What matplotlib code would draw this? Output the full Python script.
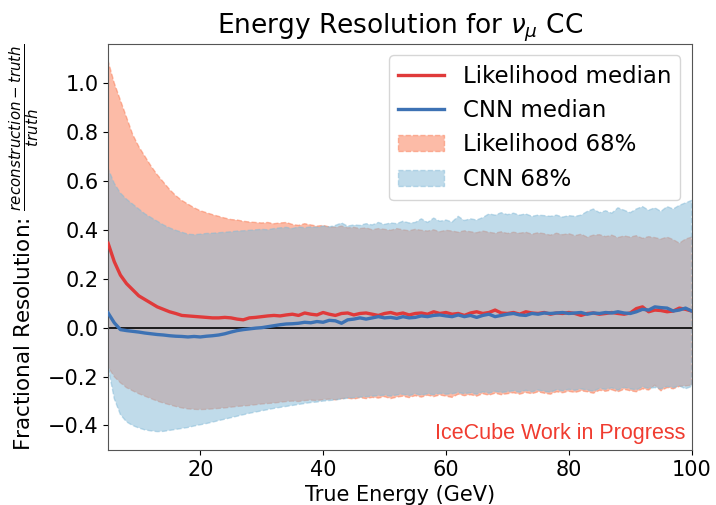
import numpy as np
import matplotlib
matplotlib.use("Agg")
import matplotlib.pyplot as plt

# energy bins (GeV)
energy = np.arange(5, 101)

ll_median = [
    0.345, 0.27, 0.215, 0.18, 0.155, 0.13, 0.115, 0.10, 0.085, 0.075,
    0.065, 0.058, 0.05, 0.048, 0.046, 0.044, 0.042, 0.040, 0.040, 0.042,
    0.040, 0.035, 0.032, 0.040, 0.042, 0.045, 0.048, 0.050, 0.048, 0.052,
    0.055, 0.050, 0.060, 0.055, 0.052, 0.062, 0.055, 0.050, 0.058, 0.060,
    0.052, 0.058, 0.060, 0.055, 0.050, 0.058, 0.062, 0.055, 0.060, 0.052,
    0.058, 0.060, 0.055, 0.065, 0.058, 0.062, 0.055, 0.058, 0.050, 0.060,
    0.065, 0.058, 0.062, 0.072, 0.060, 0.058, 0.062, 0.055, 0.065, 0.060,
    0.058, 0.062, 0.055, 0.060, 0.058, 0.062, 0.058, 0.050, 0.058, 0.060,
    0.055, 0.058, 0.062, 0.058, 0.055, 0.060, 0.078, 0.085, 0.065, 0.072,
    0.070, 0.065, 0.068, 0.080, 0.075, 0.068]

cnn_median = [
    0.06, 0.02, -0.008, -0.012, -0.015, -0.018, -0.022, -0.025, -0.028, -0.030,
    -0.033, -0.035, -0.036, -0.038, -0.036, -0.038, -0.035, -0.033, -0.030, -0.025,
    -0.018, -0.012, -0.008, -0.005, -0.002, 0.000, 0.004, 0.008, 0.012, 0.015,
    0.016, 0.018, 0.022, 0.020, 0.025, 0.022, 0.030, 0.028, 0.018, 0.032,
    0.035, 0.040, 0.035, 0.040, 0.045, 0.040, 0.042, 0.038, 0.045, 0.040,
    0.042, 0.048, 0.045, 0.050, 0.052, 0.048, 0.045, 0.052, 0.045, 0.050,
    0.042, 0.050, 0.055, 0.045, 0.050, 0.055, 0.058, 0.052, 0.050, 0.058,
    0.055, 0.060, 0.058, 0.060, 0.062, 0.058, 0.060, 0.062, 0.055, 0.060,
    0.058, 0.062, 0.060, 0.065, 0.060, 0.058, 0.065, 0.075, 0.072, 0.085,
    0.082, 0.080, 0.068, 0.072, 0.080, 0.068]

ll_hi = [
    1.09, 1.00, 0.93, 0.86, 0.79, 0.74, 0.70, 0.66, 0.625, 0.595,
    0.565, 0.54, 0.52, 0.505, 0.49, 0.478, 0.47, 0.462, 0.455, 0.448,
    0.442, 0.44, 0.435, 0.432, 0.43, 0.428, 0.43, 0.425, 0.428, 0.43,
    0.422, 0.418, 0.425, 0.42, 0.415, 0.418, 0.412, 0.41, 0.415, 0.408,
    0.41, 0.405, 0.408, 0.40, 0.405, 0.402, 0.398, 0.405, 0.40, 0.396,
    0.402, 0.398, 0.395, 0.40, 0.392, 0.398, 0.395, 0.39, 0.396, 0.392,
    0.388, 0.395, 0.39, 0.386, 0.392, 0.385, 0.39, 0.386, 0.39, 0.382,
    0.388, 0.384, 0.378, 0.386, 0.38, 0.384, 0.376, 0.382, 0.37, 0.378,
    0.38, 0.372, 0.378, 0.368, 0.375, 0.37, 0.376, 0.365, 0.372, 0.368,
    0.362, 0.37, 0.36, 0.345, 0.362, 0.37]

ll_lo = [
    -0.16, -0.20, -0.225, -0.245, -0.258, -0.27, -0.28, -0.29, -0.30, -0.308,
    -0.315, -0.322, -0.328, -0.332, -0.334, -0.335, -0.334, -0.332, -0.33, -0.328,
    -0.325, -0.322, -0.32, -0.318, -0.315, -0.312, -0.31, -0.308, -0.305, -0.302,
    -0.30, -0.302, -0.298, -0.296, -0.298, -0.294, -0.292, -0.295, -0.29, -0.288,
    -0.292, -0.286, -0.29, -0.285, -0.288, -0.282, -0.29, -0.284, -0.28, -0.286,
    -0.278, -0.284, -0.276, -0.282, -0.275, -0.28, -0.285, -0.272, -0.278, -0.274,
    -0.28, -0.27, -0.276, -0.268, -0.274, -0.27, -0.266, -0.272, -0.265, -0.27,
    -0.262, -0.268, -0.272, -0.262, -0.266, -0.26, -0.265, -0.258, -0.262, -0.268,
    -0.256, -0.26, -0.254, -0.262, -0.252, -0.258, -0.262, -0.25, -0.255, -0.235,
    -0.258, -0.245, -0.25, -0.24, -0.238, -0.235]

cnn_hi = [
    0.65, 0.59, 0.55, 0.525, 0.505, 0.485, 0.465, 0.45, 0.435, 0.42,
    0.408, 0.398, 0.39, 0.382, 0.38, 0.382, 0.385, 0.386, 0.388, 0.39,
    0.392, 0.395, 0.396, 0.398, 0.40, 0.402, 0.40, 0.405, 0.408, 0.41,
    0.405, 0.412, 0.408, 0.412, 0.41, 0.415, 0.412, 0.418, 0.428, 0.415,
    0.42, 0.418, 0.425, 0.42, 0.43, 0.422, 0.428, 0.425, 0.435, 0.428,
    0.43, 0.445, 0.43, 0.448, 0.435, 0.44, 0.432, 0.455, 0.438, 0.445,
    0.44, 0.45, 0.465, 0.46, 0.47, 0.462, 0.468, 0.46, 0.465, 0.455,
    0.46, 0.458, 0.455, 0.46, 0.452, 0.458, 0.455, 0.46, 0.475, 0.485,
    0.47, 0.478, 0.468, 0.49, 0.48, 0.47, 0.485, 0.495, 0.48, 0.49,
    0.475, 0.495, 0.485, 0.50, 0.51, 0.52]

cnn_lo = [
    -0.16, -0.29, -0.355, -0.385, -0.40, -0.41, -0.418, -0.422, -0.425, -0.424,
    -0.42, -0.416, -0.412, -0.408, -0.402, -0.397, -0.392, -0.386, -0.38, -0.374,
    -0.368, -0.362, -0.356, -0.35, -0.345, -0.34, -0.335, -0.33, -0.326, -0.322,
    -0.318, -0.314, -0.31, -0.306, -0.304, -0.30, -0.298, -0.295, -0.292, -0.288,
    -0.286, -0.284, -0.282, -0.28, -0.278, -0.276, -0.28, -0.275, -0.272, -0.278,
    -0.27, -0.276, -0.27, -0.274, -0.268, -0.272, -0.27, -0.265, -0.27, -0.266,
    -0.272, -0.262, -0.268, -0.26, -0.265, -0.262, -0.258, -0.264, -0.256, -0.262,
    -0.255, -0.26, -0.264, -0.254, -0.258, -0.252, -0.256, -0.25, -0.255, -0.26,
    -0.248, -0.252, -0.246, -0.255, -0.244, -0.25, -0.254, -0.242, -0.248, -0.245,
    -0.25, -0.24, -0.245, -0.238, -0.25, -0.24]

fig = plt.figure(figsize=(7.16, 5.05), dpi=100)
ax = fig.add_axes([0.151, 0.109, 0.815, 0.804])

ax.plot(energy, ll_median, color="#e03a3a", lw=2.4, label="Likelihood median", zorder=3)
ax.plot(energy, cnn_median, color="#3d72b4", lw=2.4, label="CNN median", zorder=3)
ax.fill_between(energy, ll_lo, ll_hi, color="#fa7850", alpha=0.5, ls="--", lw=1,
                label="Likelihood 68%")
ax.fill_between(energy, cnn_lo, cnn_hi, color="#82b9d7", alpha=0.5, ls="--", lw=1,
                label="CNN 68%")
ax.axhline(0, color="black", lw=1.2, zorder=2)

ax.set_xlim(5, 100)
ax.set_ylim(-0.5, 1.16)
ax.set_xticks([20, 40, 60, 80, 100])
ax.set_yticks([-0.4, -0.2, 0.0, 0.2, 0.4, 0.6, 0.8, 1.0])
ax.tick_params(labelsize=15)
for s in ax.spines.values():
    s.set_color("#555555")

ax.set_title(r"Energy Resolution for $\nu_\mu$ CC", fontsize=19)
ax.set_xlabel("True Energy (GeV)", fontsize=15)
ax.set_ylabel(r"Fractional Resolution: $\frac{reconstruction - truth}{truth}$", fontsize=15.5)
ax.legend(loc="upper right", fontsize=16.5)
ax.text(0.99, 0.015, "IceCube Work in Progress", transform=ax.transAxes,
        ha="right", va="bottom", color="#f03c30", fontsize=15.5, family="Liberation Sans")

fig.savefig("out.png", dpi=100)
